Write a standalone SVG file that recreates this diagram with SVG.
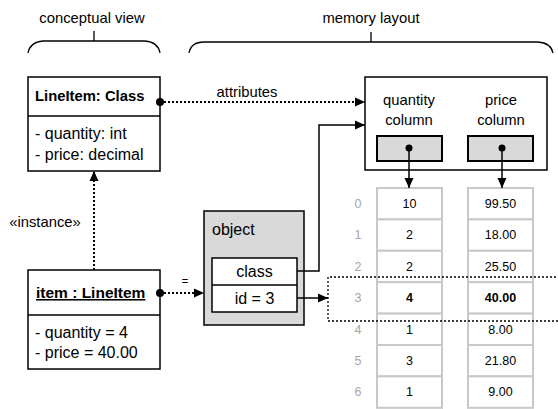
<svg xmlns="http://www.w3.org/2000/svg" width="558" height="409" viewBox="0 0 558 409">
<defs>
<marker id="ah" markerUnits="userSpaceOnUse" markerWidth="10" markerHeight="10" viewBox="0 0 10 10" refX="10" refY="5" orient="auto">
<path d="M0,0.5 L10,5 L0,9.5 z" fill="#000" stroke="none"/>
</marker>
</defs>
<style>
text{font-family:"Liberation Sans",Arial,sans-serif;fill:#000}
.t{font-size:14.8px}
.a{font-size:16px}
.b{font-size:14.8px;font-weight:bold}
.c{font-size:12.5px;text-anchor:middle}
.cb{font-size:12.5px;text-anchor:middle;font-weight:bold}
.ix{font-size:12.5px;text-anchor:middle;fill:#a6a6a6}
.mid{text-anchor:middle}
.box{fill:#fff;stroke:#000;stroke-width:1.5}
.cell{fill:#fff;stroke:#c8c8c8;stroke-width:2}
.brace{fill:none;stroke:#000;stroke-width:1.3}
.dot{fill:none;stroke:#000;stroke-width:2;stroke-dasharray:2 2}
.solid{fill:none;stroke:#000;stroke-width:1.5}
</style>

<g id="braces">
<text class="t mid" x="92" y="23">conceptual view</text>
<path class="brace" d="M28,53 Q30,42 43,41 L145,41 Q158,42 160,53"/>
<path class="brace" d="M94,31 L94,41" stroke-width="2"/>
<text class="t mid" x="371" y="23">memory layout</text>
<path class="brace" d="M189,53 Q191,42 204,42 L538,42 Q551,43 553,53"/>
<path class="brace" d="M371,32 L371,42" stroke-width="2"/>
</g>

<g id="class-node">
<rect class="box" x="28" y="77" width="132" height="94"/>
<line x1="28" y1="116" x2="160" y2="116" stroke="#000" stroke-width="1.5"/>
<text class="b" x="35" y="101">LineItem: Class</text>
<text class="a" x="35" y="139">- quantity: int</text>
<text class="a" x="35" y="160">- price: decimal</text>
</g>

<g id="item-node">
<rect class="box" x="28" y="270" width="132" height="99"/>
<line x1="28" y1="315" x2="160" y2="315" stroke="#000" stroke-width="1.5"/>
<text class="b" x="36" y="298" text-decoration="underline" style="font-size:15.5px">item : LineItem</text>
<text class="a" x="35" y="338">- quantity = 4</text>
<text class="a" x="35" y="358">- price = 40.00</text>
</g>

<g id="object-node">
<rect x="204" y="211" width="100" height="114" fill="#d9d9d9" stroke="#000" stroke-width="1.5"/>
<text class="a" x="212" y="235">object</text>
<rect class="box" x="212" y="258" width="85" height="54"/>
<line x1="212" y1="285" x2="297" y2="285" stroke="#000" stroke-width="1.5"/>
<text class="a mid" x="254.5" y="277">class</text>
<text class="a mid" x="254.5" y="304">id = 3</text>
</g>

<g id="columns-node">
<rect class="box" x="365" y="77" width="182" height="93"/>
<text class="t mid" x="409" y="105">quantity</text>
<text class="t mid" x="409" y="125">column</text>
<text class="t mid" x="501" y="105">price</text>
<text class="t mid" x="501" y="125">column</text>
<rect x="377" y="136" width="65" height="25" fill="#d9d9d9" stroke="#000" stroke-width="2"/>
<rect x="468" y="136" width="65" height="25" fill="#d9d9d9" stroke="#000" stroke-width="2"/>
</g>

<g id="memory-cells">
<rect class="cell" x="377" y="188" width="65" height="31.4"/>
<rect class="cell" x="377" y="219.4" width="65" height="31.4"/>
<rect class="cell" x="377" y="250.8" width="65" height="31.4"/>
<rect class="cell" x="377" y="282.2" width="65" height="31.4" fill="#d9d9d9"/>
<rect class="cell" x="377" y="313.6" width="65" height="31.4"/>
<rect class="cell" x="377" y="345" width="65" height="31.4"/>
<rect class="cell" x="377" y="376.4" width="65" height="31.4"/>
<rect class="cell" x="468" y="188" width="65" height="31.4"/>
<rect class="cell" x="468" y="219.4" width="65" height="31.4"/>
<rect class="cell" x="468" y="250.8" width="65" height="31.4"/>
<rect class="cell" x="468" y="282.2" width="65" height="31.4" fill="#d9d9d9"/>
<rect class="cell" x="468" y="313.6" width="65" height="31.4"/>
<rect class="cell" x="468" y="345" width="65" height="31.4"/>
<rect class="cell" x="468" y="376.4" width="65" height="31.4"/>
<text class="ix" x="358" y="208">0</text>
<text class="ix" x="358" y="239.4">1</text>
<text class="ix" x="358" y="270.8">2</text>
<text class="ix" x="358" y="302.2">3</text>
<text class="ix" x="358" y="333.6">4</text>
<text class="ix" x="358" y="365">5</text>
<text class="ix" x="358" y="396.4">6</text>
<text class="c" x="409.5" y="208">10</text>
<text class="c" x="409.5" y="239.4">2</text>
<text class="c" x="409.5" y="270.8">2</text>
<text class="cb" x="409.5" y="302.2">4</text>
<text class="c" x="409.5" y="333.6">1</text>
<text class="c" x="409.5" y="365">3</text>
<text class="c" x="409.5" y="396.4">1</text>
<text class="c" x="500.5" y="208">99.50</text>
<text class="c" x="500.5" y="239.4">18.00</text>
<text class="c" x="500.5" y="270.8">25.50</text>
<text class="cb" x="500.5" y="302.2">40.00</text>
<text class="c" x="500.5" y="333.6">8.00</text>
<text class="c" x="500.5" y="365">21.80</text>
<text class="c" x="500.5" y="396.4">9.00</text>
<path d="M560,277 H328 V321 H560" fill="none" stroke="#000" stroke-width="1.3" stroke-dasharray="2 2"/>
</g>

<g id="connectors">
<path class="dot" d="M160,102 H365" marker-end="url(#ah)"/>
<circle cx="160" cy="102" r="4"/>
<text class="t mid" x="247" y="97">attributes</text>
<path class="dot" d="M94,270 V171" marker-end="url(#ah)"/>
<text class="t mid" x="45" y="227">«instance»</text>
<path class="dot" d="M160,293 H204" marker-end="url(#ah)"/>
<circle cx="160" cy="293" r="4"/>
<text class="t mid" x="185" y="285" style="font-size:11px">=</text>
<path class="solid" d="M297,271 H319 V125 H365" marker-end="url(#ah)"/>
<path class="solid" d="M297,298 H328" marker-end="url(#ah)"/>
<path class="solid" d="M409,148 V188" marker-end="url(#ah)"/>
<circle cx="409" cy="148" r="3.5"/>
<path class="solid" d="M502,148 V188" marker-end="url(#ah)"/>
<circle cx="502" cy="148" r="3.5"/>
</g>
</svg>
